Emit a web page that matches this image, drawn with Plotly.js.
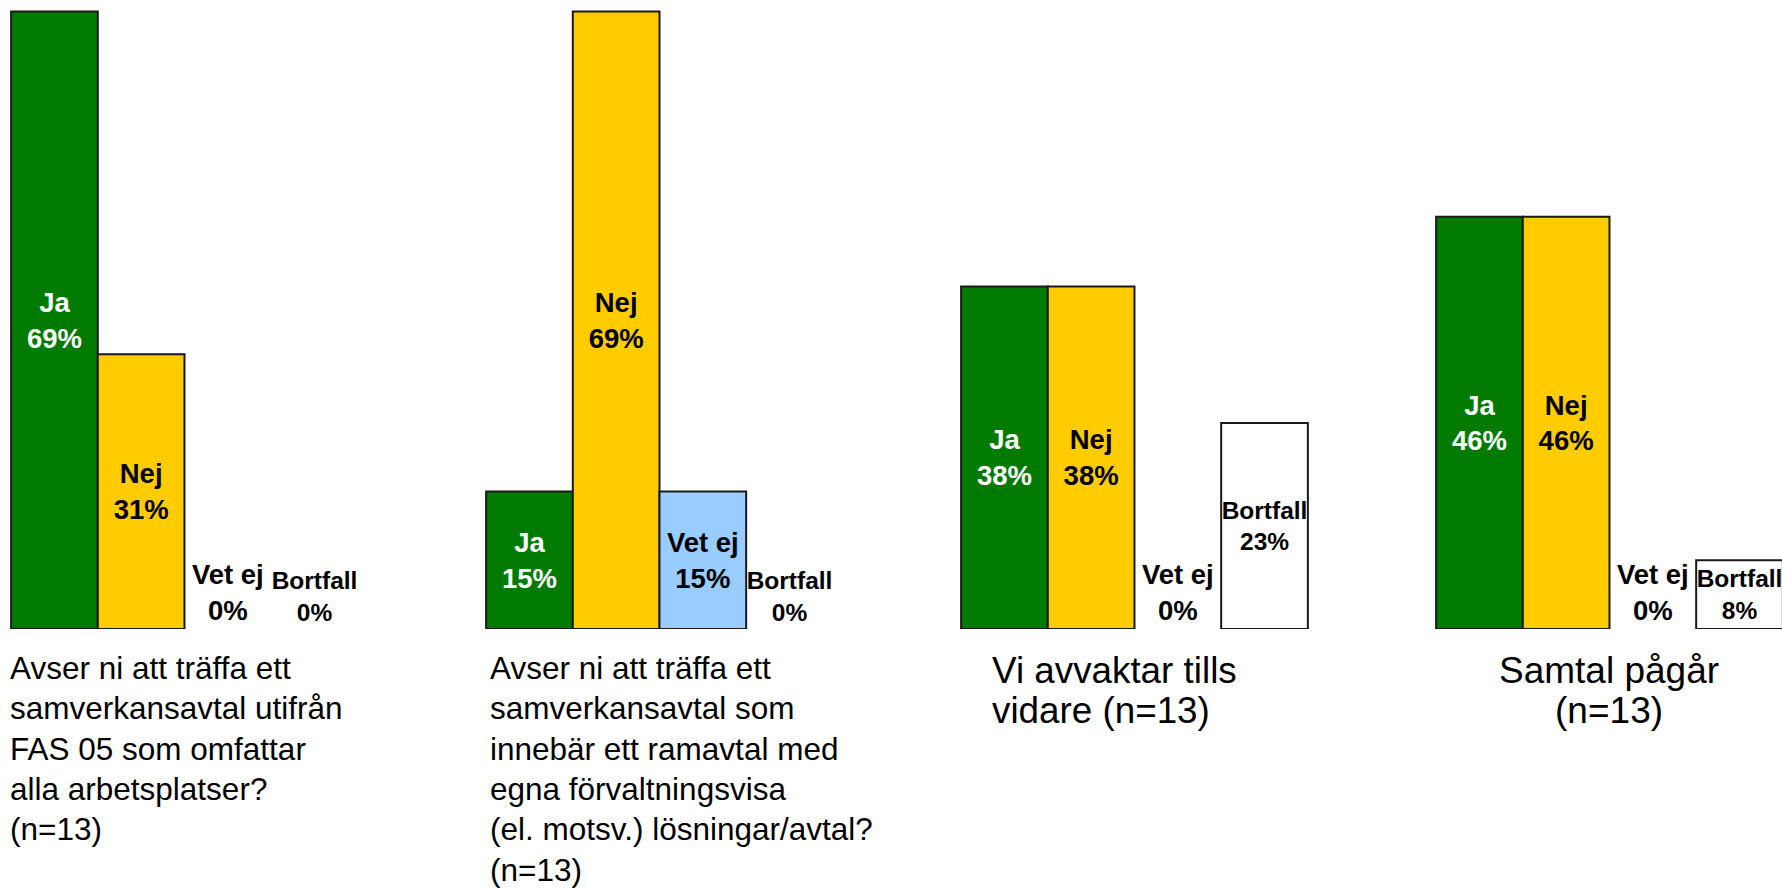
<!DOCTYPE html>
<html>
<head>
<meta charset="utf-8">
<script src="https://cdn.plot.ly/plotly-3.0.1.min.js"></script>
<style>
  html, body { margin: 0; padding: 0; background: #fff; }
  #chart { width: 1782px; height: 890px; }
</style>
</head>
<body>
<div id="chart"></div>
<script>
// four questions, answers Ja / Nej / Vet ej / Bortfall (share in %)
const questions = [0, 1, 2, 3]
const questionLabels = [
    "Avser ni att träffa ett<br>samverkansavtal utifrån<br>FAS 05 som omfattar<br>alla arbetsplatser?<br>(n=13)",
    "Avser ni att träffa ett<br>samverkansavtal som<br>innebär ett ramavtal med<br>egna förvaltningsvisa<br>(el. motsv.) lösningar/avtal?<br>(n=13)",
    "Vi avvaktar tills<br>vidare (n=13)",
    "Samtal pågår<br>(n=13)"
]
const answerNames = ["Ja", "Nej", "Vet ej", "Bortfall"]
const ja = [69.2, 15.4, 38.4, 46.2]
const nej = [30.8, 69.2, 38.4, 46.2]
const vetEj = [0, 15.4, 0, 0]
const bortfall = [0, 0, 23.1, 7.7]

const series = [ja, nej, vetEj, bortfall]
const colors = ["#007A00", "#FFCC00", "#99CCFF", "#FFFFFF"]
const textColors = ["#FFFFFF", "#000000", "#000000", "#000000"]
const textSizes = [27.5, 27.5, 27.5, 24.5]

const data = series.map((vals, k) => ({
    type: 'bar',
    name: answerNames[k],
    x: questions,
    y: vals,
    text: vals.map(v => `${answerNames[k]}<br>${Math.round(v)}%`),
    textposition: vals.map(v => v > 0 ? 'inside' : 'outside'),
    insidetextanchor: 'middle',
    textangle: 0,
    constraintext: 'none',
    cliponaxis: false,
    textfont: { family: 'Liberation Sans, Arial, sans-serif', size: textSizes[k], color: textColors[k], weight: 'bold' },
    marker: {
        color: colors[k],
        // no outline for empty bars
        line: { color: '#1a1a1a', width: vals.map(v => v > 0 ? 2 : 0) }
    },
    hoverinfo: 'skip',
}))

// label placement: [x, xanchor, align, glyph size]
// (line spacing stays at the 31px base, the short labels just use bigger glyphs)
const labelPos = [
    [-0.372, 'left', 'left', 31.5],
    [0.640, 'left', 'left', 31.5],
    [1.695, 'left', 'left', 36.8],
    [3.0, 'center', 'center', 37],
]

const annotations = questionLabels.map((t, i) => ({
    text: `<span style="font-size:${labelPos[i][3]}px">` + t.split('<br>').join(`</span><br><span style="font-size:${labelPos[i][3]}px">`) + '</span>',
    x: labelPos[i][0],
    xref: 'x',
    xanchor: labelPos[i][1],
    align: labelPos[i][2],
    y: -0.031,
    yref: 'paper',
    yanchor: 'top',
    showarrow: false,
    font: { family: 'Liberation Sans, Arial, sans-serif', size: 31, color: '#000' },
}))

var layout = {
    width: 1782,
    height: 890,
    margin: { l: 0, r: 0, t: 0, b: 261 },
    barmode: 'group',
    bargap: 0.27,
    bargroupgap: 0,
    showlegend: false,
    paper_bgcolor: '#fff',
    plot_bgcolor: '#fff',
    xaxis: {
        range: [-0.3884, 3.3632],
        showticklabels: false,
        showgrid: false,
        zeroline: false,
        showline: false,
        ticks: '',
    },
    yaxis: {
        range: [0, 70.5],
        showticklabels: false,
        showgrid: false,
        zeroline: false,
        showline: false,
        ticks: '',
    },
    annotations: annotations,
}

Plotly.newPlot('chart', data, layout, { staticPlot: true })
</script>
</body>
</html>
